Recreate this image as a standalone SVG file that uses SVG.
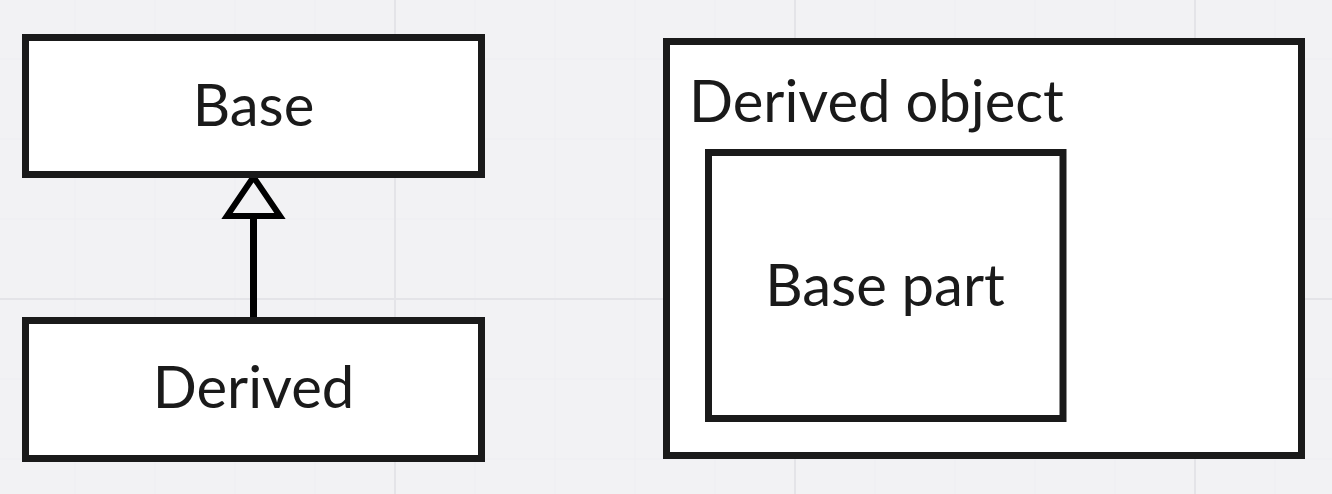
<svg xmlns="http://www.w3.org/2000/svg" width="1332" height="494" viewBox="0 0 1332 494">
<style>
.minor{stroke:#efeff2;stroke-width:1.5}
.major{stroke:#e4e4e8;stroke-width:2}
.box{fill:#ffffff;stroke:#1a1a1a;stroke-width:7}
.lbl{font-family:Lato,"Noto Sans",sans-serif;font-size:58px;fill:#1a1a1a}
.mid{text-anchor:middle}
.conn{stroke:#000;stroke-width:7;fill:none}
.head{fill:#f2f2f4;stroke:#000;stroke-width:6;stroke-linejoin:miter}
</style>
<rect width="1332" height="494" fill="#f2f2f4"/>
<g id="grid">
<path class="minor" d="M75 0V494M155 0V494M235 0V494M315 0V494M475 0V494M555 0V494M635 0V494M715 0V494M875 0V494M955 0V494M1035 0V494M1115 0V494M1275 0V494M0 59H1332M0 139H1332M0 219H1332M0 379H1332M0 459H1332"/>
<path class="major" d="M395 0V494M795 0V494M1195 0V494M0 299H1332"/>
</g>
<g id="connectors">
<line class="conn" x1="253.5" y1="318" x2="253.5" y2="216"/>
<polygon class="head" points="253.5,177 227,216 280,216"/>
</g>
<g id="base">
<rect class="box" x="25.5" y="37.5" width="456" height="137"/>
<text class="lbl mid" x="253.5" y="126">Base</text>
</g>
<g id="derived">
<rect class="box" x="25.5" y="320.5" width="456" height="138"/>
<text class="lbl mid" x="253.5" y="408">Derived</text>
</g>
<g id="derived-object">
<rect class="box" x="666.5" y="41.5" width="635" height="414"/>
<text class="lbl" x="689" y="122">Derived object</text>
</g>
<g id="base-part">
<rect class="box" x="708.5" y="152.5" width="354.5" height="266"/>
<text class="lbl mid" x="885" y="306">Base part</text>
</g>
</svg>
